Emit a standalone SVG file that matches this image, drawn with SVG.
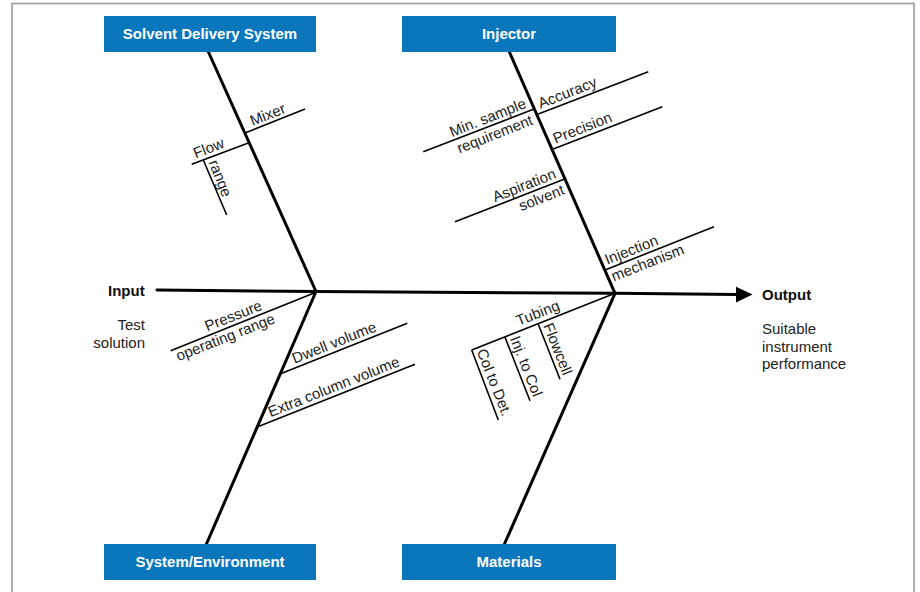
<svg xmlns="http://www.w3.org/2000/svg" width="920" height="592" viewBox="0 0 920 592">
<style>
.frame{fill:none;stroke:#9a9a9a;stroke-width:1.6}
.box{fill:#0a76bc}
.bt{font-family:"Liberation Sans",Arial,sans-serif;font-size:15px;font-weight:bold;fill:#fff;text-anchor:middle}
.bold{font-family:"Liberation Sans",Arial,sans-serif;font-size:15px;font-weight:bold;fill:#111}
.txt{font-family:"Liberation Sans",Arial,sans-serif;font-size:15px;fill:#222}
.lbl{font-family:"Liberation Sans",Arial,sans-serif;font-size:15px;fill:#222}
.bone{fill:none;stroke:#000;stroke-width:3;stroke-linecap:round;stroke-linejoin:round}
.sub{fill:none;stroke:#000;stroke-width:1.6}
</style>
<rect class="frame" x="12" y="3.5" width="902" height="610"/>

<g id="connectors">
  <polyline class="bone" points="157,290 316,291.5 615,293.3 738,294.4"/>
  <polygon points="736,286.7 752.5,294.6 736,302.5" fill="#000"/>
  <line class="bone" x1="208" y1="51" x2="316" y2="291.5"/>
  <line class="bone" x1="509" y1="51" x2="615" y2="293.3"/>
  <line class="bone" x1="316" y1="291.5" x2="206" y2="545"/>
  <line class="bone" x1="615" y1="293.3" x2="504" y2="545"/>
</g>

<g id="solvent-delivery-system">
  <rect class="box" x="104" y="16" width="212" height="36"/>
  <text class="bt" x="210" y="39">Solvent Delivery System</text>
</g>
<g id="injector">
  <rect class="box" x="402" y="16" width="214" height="36"/>
  <text class="bt" x="509" y="39">Injector</text>
</g>
<g id="system-environment">
  <rect class="box" x="104" y="544" width="212" height="36"/>
  <text class="bt" x="210" y="567">System/Environment</text>
</g>
<g id="materials">
  <rect class="box" x="402" y="544" width="214" height="36"/>
  <text class="bt" x="509" y="567">Materials</text>
</g>

<g id="input">
  <text class="bold" x="108" y="296">Input</text>
  <text class="txt" x="145" y="330" text-anchor="end">Test</text>
  <text class="txt" x="145" y="348" text-anchor="end">solution</text>
</g>
<g id="output">
  <text class="bold" x="762" y="300">Output</text>
  <text class="txt" x="762" y="334">Suitable</text>
  <text class="txt" x="762" y="351.5">instrument</text>
  <text class="txt" x="762" y="369">performance</text>
</g>

<!-- Solvent delivery causes -->
<g id="mixer">
  <line class="sub" x1="245" y1="133" x2="305" y2="109"/>
  <text class="lbl" transform="translate(271,123) rotate(-21.6)" y="-4" text-anchor="middle">Mixer</text>
</g>
<g id="flow-range">
  <line class="sub" x1="191.7" y1="164.3" x2="249" y2="142.7"/>
  <text class="lbl" transform="translate(212,156.5) rotate(-21.6)" y="-4" text-anchor="middle">Flow</text>
  <line class="sub" x1="203.3" y1="160" x2="226.7" y2="215"/>
  <text class="lbl" transform="translate(203.3,160) rotate(68.4)" x="4" y="-4">range</text>
</g>

<!-- Injector causes -->
<g id="accuracy">
  <line class="sub" x1="538.3" y1="114" x2="648.3" y2="71.7"/>
  <text class="lbl" transform="translate(538.3,114) rotate(-21.6)" x="4" y="-4">Accuracy</text>
</g>
<g id="min-sample">
  <line class="sub" x1="423.3" y1="151.7" x2="533.3" y2="109.3"/>
  <text class="lbl" transform="translate(533.3,109.3) rotate(-21.6)" x="-5" y="-4" text-anchor="end">Min. sample</text>
  <text class="lbl" transform="translate(533.3,109.3) rotate(-21.6)" x="-5" y="14" text-anchor="end">requirement</text>
</g>
<g id="precision">
  <line class="sub" x1="553.3" y1="149" x2="662.3" y2="106.7"/>
  <text class="lbl" transform="translate(553.3,149) rotate(-21.6)" x="4" y="-4">Precision</text>
</g>
<g id="aspiration-solvent">
  <line class="sub" x1="455" y1="221.7" x2="564" y2="179.3"/>
  <text class="lbl" transform="translate(564,179.3) rotate(-21.6)" x="-6" y="-4" text-anchor="end">Aspiration</text>
  <text class="lbl" transform="translate(564,179.3) rotate(-21.6)" x="-4" y="14" text-anchor="end">solvent</text>
</g>
<g id="injection-mechanism">
  <line class="sub" x1="605" y1="270" x2="714" y2="226.7"/>
  <text class="lbl" transform="translate(605,270) rotate(-21.6)" x="4" y="-4">Injection</text>
  <text class="lbl" transform="translate(605,270) rotate(-21.6)" x="4" y="14">mechanism</text>
</g>

<!-- System/Environment causes -->
<g id="pressure">
  <line class="sub" x1="170.7" y1="350.7" x2="316" y2="292.3"/>
  <text class="lbl" transform="translate(236.7,324.2) rotate(-21.6)" y="-4" text-anchor="middle">Pressure</text>
  <text class="lbl" transform="translate(222.5,329.9) rotate(-21.6)" y="13" text-anchor="middle">operating range</text>
</g>
<g id="dwell-volume">
  <line class="sub" x1="280" y1="374" x2="407.3" y2="323.3"/>
  <text class="lbl" transform="translate(337.5,351) rotate(-21.6)" y="-4" text-anchor="middle">Dwell volume</text>
</g>
<g id="extra-column-volume">
  <line class="sub" x1="256.5" y1="427.3" x2="415" y2="364.3"/>
  <text class="lbl" transform="translate(337,395.2) rotate(-21.6)" y="-4" text-anchor="middle">Extra column volume</text>
</g>

<!-- Materials causes -->
<g id="tubing">
  <line class="sub" x1="615" y1="293.3" x2="471.7" y2="350"/>
  <text class="lbl" transform="translate(541.5,322.4) rotate(-21.6)" y="-5" text-anchor="middle">Tubing</text>
</g>
<g id="flowcell">
  <line class="sub" x1="538.3" y1="324.3" x2="560" y2="379.3"/>
  <text class="lbl" transform="translate(538.3,324.3) rotate(68.4)" x="3" y="-4">Flowcell</text>
</g>
<g id="inj-to-col">
  <line class="sub" x1="505" y1="337.3" x2="530" y2="400.7"/>
  <text class="lbl" transform="translate(505,337.3) rotate(68.4)" x="3" y="-4">Inj. to Col</text>
</g>
<g id="col-to-det">
  <line class="sub" x1="471.7" y1="350" x2="498.3" y2="420"/>
  <text class="lbl" transform="translate(471.7,350) rotate(68.4)" x="3" y="-4">Col to Det.</text>
</g>
</svg>
